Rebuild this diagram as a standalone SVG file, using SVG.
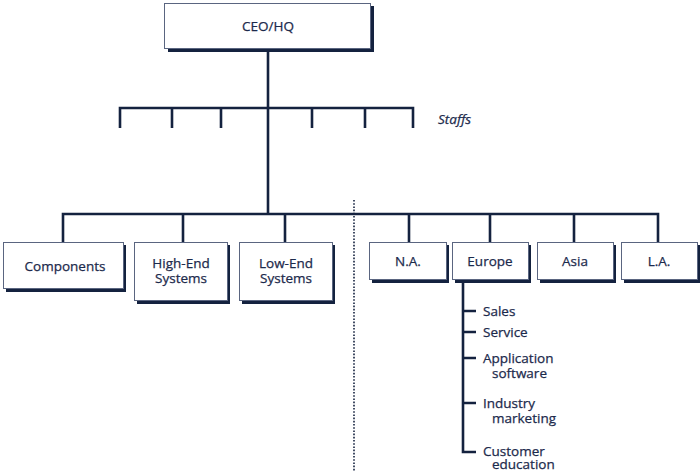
<svg xmlns="http://www.w3.org/2000/svg" width="700" height="472" viewBox="0 0 700 472">
<style>
.sh{fill:#14223f}
.bx{fill:#fff;stroke:#5a6580;stroke-width:1}
.ln{fill:none;stroke:#14223f;stroke-width:2.6;stroke-linecap:butt}
.t{font-family:"Open Sans","Noto Sans",sans-serif;font-size:13.5px;fill:#1c2a4c;stroke:#1c2a4c;stroke-width:0.25}
.c{text-anchor:middle}
</style>
<rect width="700" height="472" fill="#fff"/>
<g id="connectors">
<path class="ln" d="M268,48 V214"/>
<path class="ln" d="M120,128 V108 H413 V128 M172,108 V128 M221,108 V128 M312,108 V128 M365,108 V128"/>
<path class="ln" d="M63,242 V214 H658 V242 M183,214 V242 M285,214 V242 M409,214 V242 M490,214 V242 M574,214 V242"/>
<path class="ln" d="M463,279 V452 H476 M463,311 H476 M463,332 H476 M463,358 H476 M463,403 H476"/>
<path d="M354,200 V472" stroke="#14223f" stroke-width="1.6" stroke-dasharray="1.6,1.6" fill="none"/>
</g>
<g id="ceo"><rect class="sh" x="168" y="6" width="206" height="46"/><rect class="bx" x="164.5" y="3.5" width="206" height="45"/><text class="t c" x="268" y="31">CEO/HQ</text></g>
<g id="staffs"><text class="t" x="438" y="124" font-style="italic">Staffs</text></g>
<g id="components"><rect class="sh" x="6" y="245" width="120" height="47"/><rect class="bx" x="3.5" y="242.5" width="120" height="46"/><text class="t c" x="65" y="271">Components</text></g>
<g id="highend"><rect class="sh" x="137" y="245" width="93" height="59"/><rect class="bx" x="134.5" y="242.5" width="93" height="58"/><text class="t c" x="181" y="268"><tspan x="181">High-End</tspan><tspan x="181" dy="15">Systems</tspan></text></g>
<g id="lowend"><rect class="sh" x="242" y="245" width="93" height="59"/><rect class="bx" x="239.5" y="242.5" width="93" height="58"/><text class="t c" x="286" y="268"><tspan x="286">Low-End</tspan><tspan x="286" dy="15">Systems</tspan></text></g>
<g id="na"><rect class="sh" x="372" y="245" width="77" height="38"/><rect class="bx" x="369.5" y="242.5" width="77" height="37"/><text class="t c" x="408" y="266">N.A.</text></g>
<g id="europe"><rect class="sh" x="455" y="245" width="76" height="38"/><rect class="bx" x="452.5" y="242.5" width="76" height="37"/><text class="t c" x="490" y="266">Europe</text></g>
<g id="asia"><rect class="sh" x="540" y="245" width="76" height="38"/><rect class="bx" x="537.5" y="242.5" width="76" height="37"/><text class="t c" x="575" y="266">Asia</text></g>
<g id="la"><rect class="sh" x="624" y="245" width="76" height="38"/><rect class="bx" x="621.5" y="242.5" width="76" height="37"/><text class="t c" x="659" y="266">L.A.</text></g>
<g id="europe-functions">
<text class="t" x="483" y="316">Sales</text>
<text class="t" x="483" y="337">Service</text>
<text class="t" x="483" y="363"><tspan x="483">Application</tspan><tspan x="492" dy="15">software</tspan></text>
<text class="t" x="483" y="408"><tspan x="483">Industry</tspan><tspan x="492" dy="15">marketing</tspan></text>
<text class="t" x="483" y="456"><tspan x="483">Customer</tspan><tspan x="492" dy="13">education</tspan></text>
</g>
</svg>
